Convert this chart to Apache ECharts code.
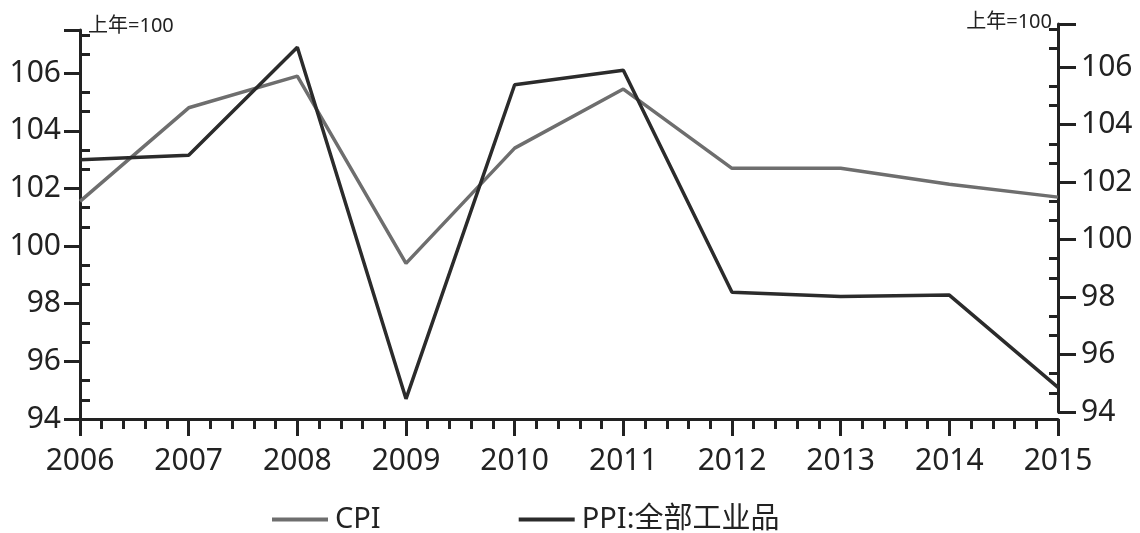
<!DOCTYPE html>
<html>
<head>
<meta charset="utf-8">
<script src="https://cdn.jsdelivr.net/npm/echarts@6/dist/echarts.min.js"></script>
<style>
html,body{margin:0;padding:0;background:#fff;}
#c{width:1140px;height:533px;}
</style>
</head>
<body>
<div id="c"></div>
<script>
const years = [2006, 2007, 2008, 2009, 2010, 2011, 2012, 2013, 2014, 2015];
const cpi = [101.55, 104.8, 105.9, 99.4, 103.4, 105.45, 102.7, 102.7, 102.15, 101.7];
const ppi = [103.0, 103.15, 106.9, 94.7, 105.6, 106.1, 98.4, 98.25, 98.3, 95.1];
const seriesNames = ['CPI', 'PPI:全部工业品'];
const axisUnit = '上年=100';

const font = '"Noto Sans", "Noto Sans CJK SC", sans-serif';
const axisColor = '#222';

const chart = echarts.init(document.getElementById('c'));
const pair = (arr) => years.map((y, i) => [y, arr[i]]);

chart.setOption({
  backgroundColor: '#ffffff',
  animation: false,
  textStyle: { fontFamily: font },
  grid: [
    { left: 80, right: 82, top: 30, bottom: 114, containLabel: false },
    { left: 80, right: 82, top: 24, bottom: 121, containLabel: false }
  ],
  legend: {
    left: 267, top: 500,
    icon: 'rect', itemWidth: 56, itemHeight: 4, itemGap: 138,
    textStyle: { fontSize: 29, color: axisColor, fontFamily: font, padding: [0, 0, 0, 2] },
    data: seriesNames
  },
  xAxis: [
    {
      type: 'value', gridIndex: 0, min: 2006, max: 2015, interval: 1,
      axisLine: { show: true, lineStyle: { color: axisColor, width: 3 } },
      axisTick: { show: true, length: 17, lineStyle: { color: axisColor, width: 3 } },
      minorTick: { show: true, splitNumber: 5, length: 10, lineStyle: { color: axisColor, width: 3 } },
      axisLabel: { fontSize: 30, color: axisColor, margin: 27, formatter: (v) => String(v) },
      splitLine: { show: false }
    },
    {
      type: 'value', gridIndex: 1, min: 2006, max: 2015, interval: 1, show: false
    }
  ],
  yAxis: [
    {
      type: 'value', gridIndex: 0, position: 'left', min: 94, max: 107.5, interval: 2,
      name: axisUnit, nameLocation: 'end', nameGap: 4,
      nameTextStyle: { fontSize: 20, color: axisColor, align: 'left', verticalAlign: 'middle', padding: [0, 0, 0, 8] },
      axisLine: { show: true, lineStyle: { color: axisColor, width: 3 } },
      axisTick: { show: true, length: 16, lineStyle: { color: axisColor, width: 3 } },
      minorTick: { show: true, splitNumber: 3, length: -10, lineStyle: { color: axisColor, width: 3 } },
      axisLabel: { fontSize: 30, color: axisColor, margin: 19, showMaxLabel: false },
      splitLine: { show: false }
    },
    {
      type: 'value', gridIndex: 1, position: 'right', min: 94, max: 107.5, interval: 2,
      name: axisUnit, nameLocation: 'end', nameGap: 2,
      nameTextStyle: { fontSize: 20, color: axisColor, align: 'right', verticalAlign: 'middle', padding: [0, 6, 0, 0] },
      axisLine: { show: true, lineStyle: { color: axisColor, width: 3 } },
      axisTick: { show: true, length: 18, lineStyle: { color: axisColor, width: 3 } },
      minorTick: { show: true, splitNumber: 3, length: -9, lineStyle: { color: axisColor, width: 3 } },
      axisLabel: { fontSize: 30, color: axisColor, margin: 23, showMaxLabel: false },
      splitLine: { show: false }
    }
  ],
  series: [
    {
      name: seriesNames[0], type: 'line', xAxisIndex: 0, yAxisIndex: 0,
      data: pair(cpi), symbol: 'none', z: 2,
      lineStyle: { color: '#6e6e6e', width: 3.5 }, itemStyle: { color: '#6e6e6e' }
    },
    {
      name: seriesNames[1], type: 'line', xAxisIndex: 0, yAxisIndex: 0,
      data: pair(ppi), symbol: 'none', z: 3,
      lineStyle: { color: '#2b2b2b', width: 3.5 }, itemStyle: { color: '#2b2b2b' }
    }
  ]
});
</script>
</body>
</html>
